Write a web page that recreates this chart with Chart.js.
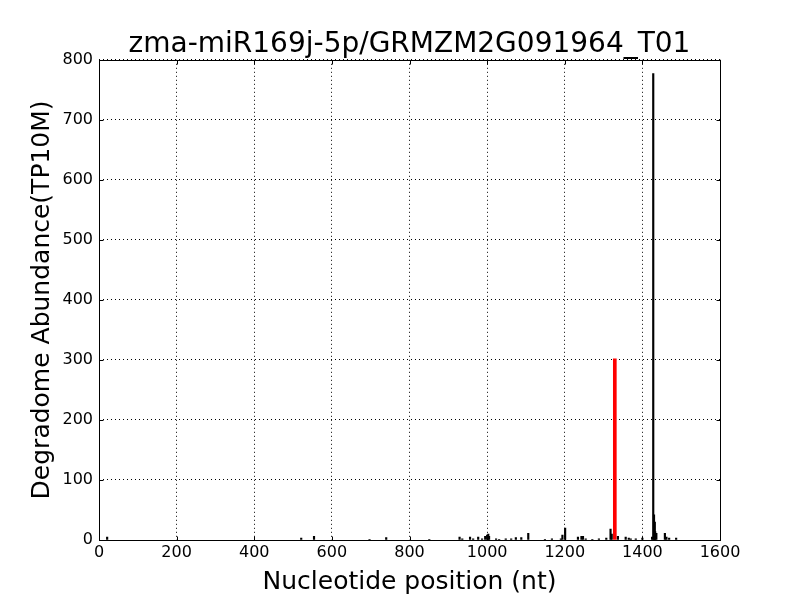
<!DOCTYPE html>
<html>
<head>
<meta charset="utf-8">
<script src="https://cdn.jsdelivr.net/npm/chart.js@4"></script>
<style>
  body { margin: 0; background: #fff; }
  canvas { display: block; }
</style>
</head>
<body>
<canvas id="c" width="800" height="600"></canvas>
<script>
// degradome reads per position (black) and the cleavage site (red)
const positions = [21, 521, 554, 697, 740, 851, 929, 936, 956, 964, 977, 987, 995, 1000, 1003, 1005,
    1023, 1031, 1048, 1062, 1074, 1088, 1106, 1149, 1167, 1190, 1194, 1201, 1234, 1243, 1247, 1254,
    1271, 1288, 1307, 1318, 1321, 1337, 1357, 1365, 1370, 1383, 1400, 1425, 1428, 1430, 1432, 1433,
    1436, 1458, 1462, 1469, 1487];
const abundance = [5, 3, 6, 1, 4, 1, 5, 2, 5, 2, 5, 2, 6, 8, 10, 6,
    2, 1, 2, 2, 4, 4, 11, 1, 2, 2, 8, 20, 5, 6, 6, 2,
    1, 2, 3, 18, 10, 6, 5, 3, 2, 2, 3, 5, 777, 42, 30, 14,
    11, 11, 5, 3, 3];
const sitePos = [1329];
const siteVal = [302];

const xTicks = [0, 200, 400, 600, 800, 1000, 1200, 1400, 1600];
const yTicks = [0, 100, 200, 300, 400, 500, 600, 700, 800];

const FONT = 'DejaVu Sans';

// cadre complet + graduations vers l'intérieur (style matplotlib)
const framePlugin = {
    id: 'frame',
    afterDraw(chart) {
        const { ctx, chartArea: a, scales } = chart;
        const L = Math.round(a.left) + 0.5, R = Math.round(a.right) + 0.5;
        const T = Math.round(a.top) + 0.5, B = Math.round(a.bottom) + 0.5;
        ctx.save();
        ctx.strokeStyle = '#000';
        ctx.lineWidth = 1;
        ctx.beginPath();
        xTicks.forEach(v => {
            const p = Math.round(scales.x.getPixelForValue(v)) + 0.5;
            ctx.moveTo(p, B); ctx.lineTo(p, B - 4);
            ctx.moveTo(p, T); ctx.lineTo(p, T + 4);
        });
        yTicks.forEach(v => {
            const p = Math.round(scales.y.getPixelForValue(v)) + 0.5;
            ctx.moveTo(L, p); ctx.lineTo(L + 4, p);
            ctx.moveTo(R, p); ctx.lineTo(R - 4, p);
        });
        ctx.stroke();
        ctx.strokeRect(L, T, R - L, B - T);
        ctx.restore();
    }
};

new Chart(document.getElementById('c'), {
    type: 'bar',
    data: {
        datasets: [
            { data: positions.map((p, i) => ({ x: p, y: abundance[i] })), backgroundColor: '#000', barThickness: 1.5 },
            { data: sitePos.map((p, i) => ({ x: p, y: siteVal[i] })), backgroundColor: '#ff0000', barThickness: 3 },
        ]
    },
    options: {
        responsive: false,
        animation: false,
        grouped: false,
        layout: { padding: { left: 0, right: 80, top: 0, bottom: 0 } },
        scales: {
            x: {
                type: 'linear',
                min: 0, max: 1600,
                offset: false,
                afterBuildTicks(s) { s.ticks = xTicks.map(v => ({ value: v })); },
                afterFit(s) { s.height = 60; },
                border: { display: false, dash: [1, 3] },
                grid: { offset: false, drawTicks: false, color: '#000', lineWidth: 1 },
                ticks: { color: '#000', padding: 3, maxRotation: 0, autoSkip: false,
                         font: { family: FONT, size: 16 }, callback: v => String(v) },
                title: { display: true, text: 'Nucleotide position (nt)', color: '#000',
                         font: { family: FONT, size: 25 }, padding: { top: 3, bottom: 3 } },
            },
            y: {
                min: 0, max: 800,
                afterBuildTicks(s) { s.ticks = yTicks.map(v => ({ value: v })); },
                afterFit(s) { s.width = 99; },
                border: { display: false, dash: [1, 3] },
                grid: { drawTicks: false, color: '#000', lineWidth: 1 },
                ticks: { color: '#000', padding: 6, font: { family: FONT, size: 16 }, callback: v => String(v) },
                title: { display: true, text: 'Degradome Abundance(TP10M)', color: '#000',
                         font: { family: FONT, size: 25 }, padding: { top: 27, bottom: 27 } },
            },
        },
        plugins: {
            legend: { display: false },
            tooltip: { enabled: false },
            title: {
                display: true, fullSize: false,
                text: 'zma-miR169j-5p/GRMZM2G091964_T01',
                color: '#000',
                font: { family: FONT, size: 28, weight: 'normal', lineHeight: 1.1 },
                padding: { top: 29, bottom: 0 },
            },
        },
    },
    plugins: [framePlugin],
});
</script>
</body>
</html>
